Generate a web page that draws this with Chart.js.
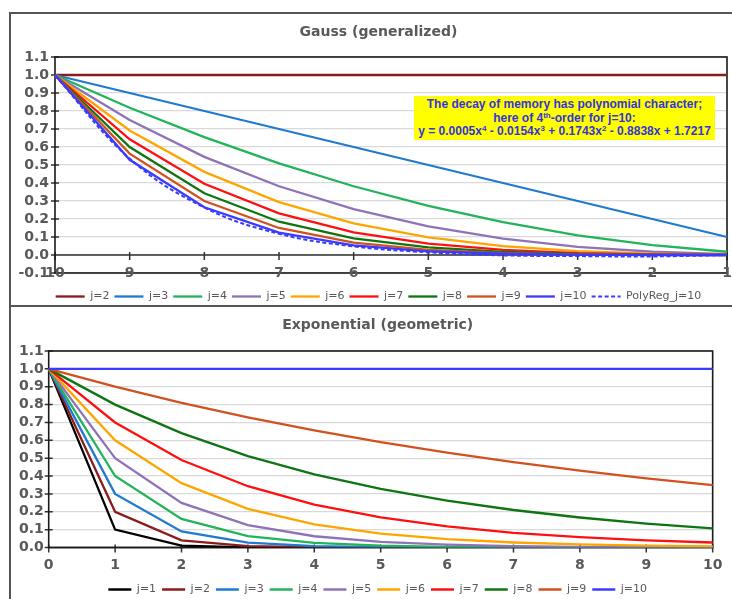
<!DOCTYPE html>
<html>
<head>
<meta charset="utf-8">
<script src="https://cdn.jsdelivr.net/npm/chart.js@4.4.1/dist/chart.umd.min.js"></script>
<style>
html, body { margin: 0; padding: 0; background: #fff; width: 732px; height: 599px; overflow: hidden; }
.frame { position: absolute; border: 2px solid #555; box-sizing: border-box; }
canvas { position: absolute; left: 0; }
#note {
  position: absolute; left: 414px; top: 96px; width: 301px; height: 44px;
  background: #ffff00; color: #3434dc; text-align: center;
  font: bold 12px "Liberation Sans", Arial, sans-serif; line-height: 13.5px;
  padding-top: 2px; box-sizing: border-box;
}
#note sup { font-size: 8px; line-height: 0; vertical-align: 4px; }
</style>
</head>
<body>
<div class="frame" style="left:9px; top:12px; width:740px; height:295px"></div>
<div class="frame" style="left:9px; top:305px; width:740px; height:320px"></div>
<canvas id="gauss" width="732" height="312" style="top:0"></canvas>
<canvas id="expo" width="732" height="305" style="top:300px"></canvas>
<div id="note">The decay of memory has polynomial character;<br>here of 4<sup>th</sup>-order for j=10:<br>y = 0.0005x<sup>4</sup> - 0.0154x<sup>3</sup> + 0.1743x<sup>2</sup> - 0.8838x + 1.7217</div>

<script>
// Gauss (generalized): x runs from 10 down to 1
var gaussX = ['10', '9', '8', '7', '6', '5', '4', '3', '2', '1'];
var g2 = [1, 1, 1, 1, 1, 1, 1, 1, 1, 1];
var g3 = [1, 0.9, 0.8, 0.7, 0.6, 0.5, 0.4, 0.3, 0.2, 0.1];
var g4 = [1, 0.818, 0.655, 0.509, 0.382, 0.273, 0.182, 0.109, 0.055, 0.018];
var g5 = [1, 0.75, 0.545, 0.382, 0.255, 0.159, 0.091, 0.045, 0.018, 0.005];
var g6 = [1, 0.692, 0.462, 0.294, 0.176, 0.098, 0.049, 0.021, 0.007, 0.001];
var g7 = [1, 0.643, 0.396, 0.231, 0.126, 0.063, 0.028, 0.010, 0.003, 0.001];
var g8 = [1, 0.600, 0.343, 0.185, 0.092, 0.042, 0.017, 0.006, 0.001, 0];
var g9 = [1, 0.563, 0.300, 0.150, 0.069, 0.029, 0.010, 0.003, 0.001, 0];
var g10 = [1, 0.529, 0.265, 0.124, 0.053, 0.020, 0.007, 0.002, 0, 0];
var gPoly = [0.997, 0.536, 0.264, 0.118, 0.048, 0.015, -0.002, -0.006, -0.008, 0];

// Exponential (geometric)
var expX = ['0', '1', '2', '3', '4', '5', '6', '7', '8', '9', '10'];
var e1 = [1, 0.1, 0.01, 0.001, 0, 0, 0, 0, 0, 0, 0];
var e2 = [1, 0.2, 0.04, 0.008, 0.002, 0, 0, 0, 0, 0, 0];
var e3 = [1, 0.3, 0.09, 0.027, 0.008, 0.002, 0.001, 0, 0, 0, 0];
var e4 = [1, 0.4, 0.16, 0.064, 0.026, 0.010, 0.004, 0.002, 0.001, 0, 0];
var e5 = [1, 0.5, 0.25, 0.125, 0.063, 0.031, 0.016, 0.008, 0.004, 0.002, 0.001];
var e6 = [1, 0.6, 0.36, 0.216, 0.130, 0.078, 0.047, 0.028, 0.017, 0.010, 0.006];
var e7 = [1, 0.7, 0.49, 0.343, 0.240, 0.168, 0.118, 0.082, 0.058, 0.040, 0.028];
var e8 = [1, 0.8, 0.64, 0.512, 0.410, 0.328, 0.262, 0.210, 0.168, 0.134, 0.107];
var e9 = [1, 0.9, 0.81, 0.729, 0.656, 0.590, 0.531, 0.478, 0.430, 0.387, 0.349];
var e10 = [1, 1, 1, 1, 1, 1, 1, 1, 1, 1, 1];

var colors = {
  j1: '#000000', j2: '#8c1b1b', j3: '#1f7ad0', j4: '#22b35b', j5: '#8e73b8',
  j6: '#ffa500', j7: '#ff1010', j8: '#0e7512', j9: '#d2521f', j10: '#3b3bff'
};

var tickFont = { family: 'DejaVu Sans', weight: 'bold', size: 14 };
var titleFont = { family: 'DejaVu Sans', weight: 'bold', size: 14 };
var legendFont = { family: 'DejaVu Sans', size: 11 };

function line(label, data, color, i, extra) {
  return Object.assign({
    label: label,
    data: data,
    borderColor: color,
    backgroundColor: color,
    borderWidth: 2.3,
    pointRadius: 0,
    tension: 0,
    order: -i
  }, extra || {});
}

// legend samples use the series' own line width and dash
function legendLabels(chart) {
  var items = Chart.defaults.plugins.legend.labels.generateLabels(chart);
  items.forEach(function(it) {
    var ds = chart.data.datasets[it.datasetIndex];
    it.lineWidth = ds.borderWidth;
    it.lineDash = ds.borderDash || [];
    it.strokeStyle = ds.borderColor;
  });
  return items.sort(function(a, b) { return a.datasetIndex - b.datasetIndex; });
}

// axis line at 0, cross tick marks and plot border, drawn below the series
var axesPlugin = {
  id: 'axesPlugin',
  afterLayout: function(chart, args, opts) {
    // title and legend are centred like the Excel chart, a bit right of the canvas middle
    [chart.titleBlock, chart.legend].forEach(function(b) { if (b) b.left = opts.boxLeft; });
  },
  beforeDatasetsDraw: function(chart, args, opts) {
    var ctx = chart.ctx, a = chart.chartArea, x = chart.scales.x, y = chart.scales.y;
    var y0 = y.getPixelForValue(0);
    ctx.save();
    ctx.strokeStyle = '#333';
    ctx.lineWidth = 1.5;
    ctx.beginPath();
    ctx.moveTo(a.left, y0); ctx.lineTo(a.right, y0);
    y.ticks.forEach(function(t) {
      var py = y.getPixelForValue(t.value);
      ctx.moveTo(a.left - 4, py); ctx.lineTo(a.left + 4, py);
    });
    chart.data.labels.forEach(function(l, i) {
      var px = x.getPixelForValue(i);
      ctx.moveTo(px, y0 - 3); ctx.lineTo(px, y0 + 5);
    });
    ctx.stroke();
    ctx.strokeStyle = '#1a1a1a';
    ctx.lineWidth = 1.6;
    ctx.strokeRect(a.left, a.top, a.right - a.left, a.bottom - a.top);
    // category labels sitting on the lowest gridline (Gauss chart)
    if (opts.labelsOnMin) {
      ctx.fillStyle = '#595959';
      ctx.font = 'bold 14px "DejaVu Sans"';
      ctx.textAlign = 'center';
      ctx.textBaseline = 'middle';
      var yl = y.getPixelForValue(y.min);
      chart.data.labels.forEach(function(l, i) {
        ctx.fillText(l, x.getPixelForValue(i), yl);
      });
    }
    ctx.restore();
  }
};

var gaussChart = new Chart(document.getElementById('gauss').getContext('2d'), {
  type: 'line',
  data: {
    labels: gaussX,
    datasets: [
      line('j=2', g2, colors.j2, 0),
      line('j=3', g3, colors.j3, 1),
      line('j=4', g4, colors.j4, 2),
      line('j=5', g5, colors.j5, 3),
      line('j=6', g6, colors.j6, 4),
      line('j=7', g7, colors.j7, 5),
      line('j=8', g8, colors.j8, 6),
      line('j=9', g9, colors.j9, 7),
      line('j=10', g10, colors.j10, 8),
      line('PolyReg_j=10', gPoly, colors.j10, 9, { borderDash: [4, 2.5], borderWidth: 2, tension: 0.4 })
    ]
  },
  options: {
    responsive: false,
    animation: false,
    events: [],
    layout: { padding: { left: 0, right: 5, top: 0, bottom: 0 } },
    scales: {
      x: {
        type: 'category',
        offset: false,
        grid: { display: false, drawTicks: false },
        border: { display: false },
        ticks: { display: false },
        afterFit: function(s) { s.height = 13; }
      },
      y: {
        min: -0.1,
        max: 1.1,
        grid: { color: '#d9d9d9', lineWidth: 1.3, drawTicks: false },
        border: { display: false },
        ticks: {
          stepSize: 0.1, autoSkip: false, color: '#595959', font: tickFont, padding: 6,
          callback: function(v) { return Number(v).toFixed(1); }
        },
        afterFit: function(s) { s.width = 55; }
      }
    },
    plugins: {
      axesPlugin: { boxLeft: 30, labelsOnMin: true },
      title: {
        display: true,
        text: 'Gauss (generalized)',
        color: '#595959',
        font: titleFont,
        padding: { top: 23.6, bottom: 16.6 }
      },
      legend: {
        position: 'bottom',
        labels: {
          usePointStyle: true,
          pointStyle: 'line',
          pointStyleWidth: 29,
          color: '#595959',
          font: legendFont,
          padding: 5,
          generateLabels: legendLabels
        }
      },
      tooltip: { enabled: false }
    }
  },
  plugins: [axesPlugin]
});

var expoChart = new Chart(document.getElementById('expo').getContext('2d'), {
  type: 'line',
  data: {
    labels: expX,
    datasets: [
      line('j=1', e1, colors.j1, 0),
      line('j=2', e2, colors.j2, 1),
      line('j=3', e3, colors.j3, 2),
      line('j=4', e4, colors.j4, 3),
      line('j=5', e5, colors.j5, 4),
      line('j=6', e6, colors.j6, 5),
      line('j=7', e7, colors.j7, 6),
      line('j=8', e8, colors.j8, 7),
      line('j=9', e9, colors.j9, 8),
      line('j=10', e10, colors.j10, 9)
    ]
  },
  options: {
    responsive: false,
    animation: false,
    events: [],
    layout: { padding: { left: 0, right: 16, top: 0, bottom: 0 } },
    scales: {
      x: {
        type: 'category',
        offset: false,
        grid: { display: false, drawTicks: false },
        border: { display: false },
        ticks: { color: '#595959', font: tickFont, padding: 9.6, maxRotation: 0, autoSkip: false },
        afterFit: function(s) { s.height = 30.5; }
      },
      y: {
        min: 0,
        max: 1.1,
        grid: { color: '#d9d9d9', lineWidth: 1.3, drawTicks: false },
        border: { display: false },
        ticks: {
          stepSize: 0.1, autoSkip: false, color: '#595959', font: tickFont, padding: 5,
          callback: function(v) { return Number(v).toFixed(1); }
        },
        afterFit: function(s) { s.width = 48.7; }
      }
    },
    plugins: {
      axesPlugin: { boxLeft: 39.4, labelsOnMin: false },
      title: {
        display: true,
        text: 'Exponential (geometric)',
        color: '#595959',
        font: titleFont,
        padding: { top: 16.6, bottom: 17.6 }
      },
      legend: {
        position: 'bottom',
        labels: {
          usePointStyle: true,
          pointStyle: 'line',
          pointStyleWidth: 23,
          color: '#595959',
          font: legendFont,
          padding: 6,
          generateLabels: legendLabels
        }
      },
      tooltip: { enabled: false }
    }
  },
  plugins: [axesPlugin]
});
</script>
</body>
</html>
